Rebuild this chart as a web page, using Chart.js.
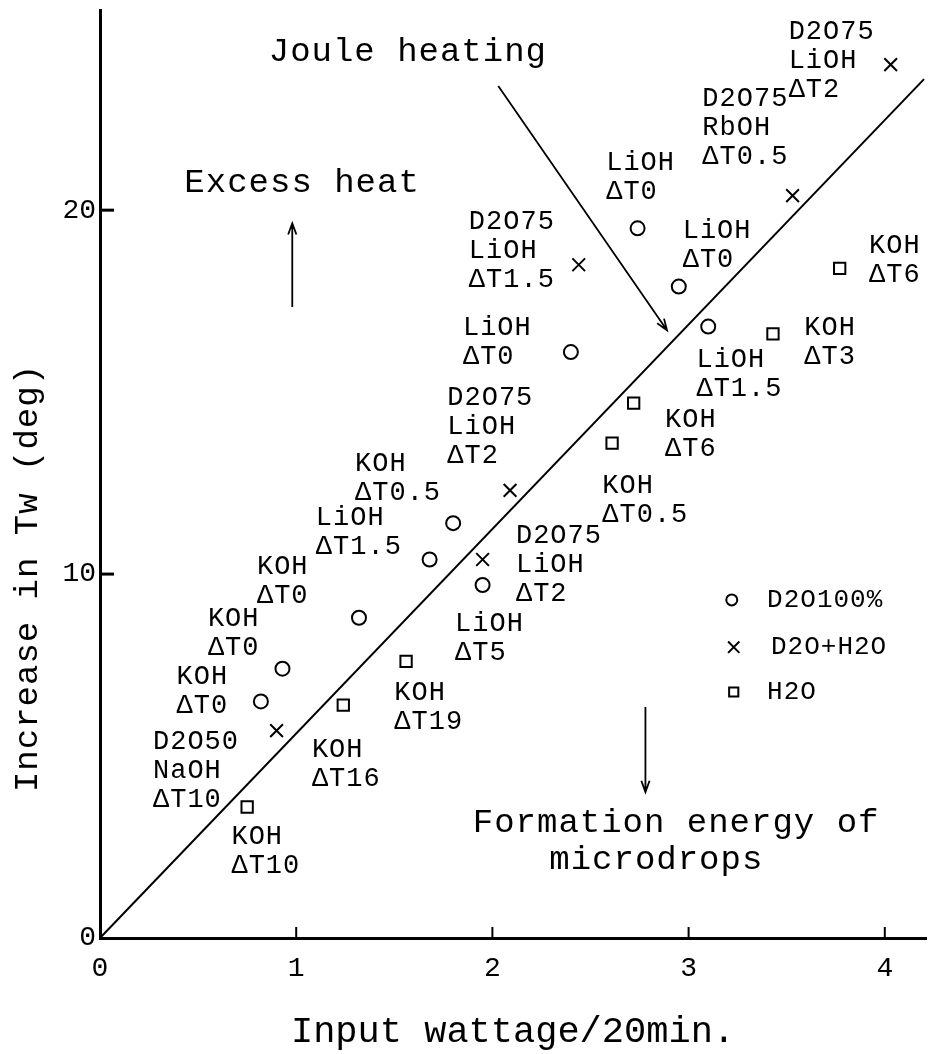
<!DOCTYPE html>
<html lang="en">
<head>
<meta charset="UTF-8">
<title>Increase in Tw vs input wattage</title>
<script src="https://cdn.jsdelivr.net/npm/chart.js"></script>
<style>
  body { margin: 0; background: #fff; }
</style>
</head>
<body>
<canvas id="twChart" width="928" height="1054"></canvas>
<script>
// D2O 100%
const d2oX = [2.74, 2.95, 3.10, 2.40, 1.80, 1.68, 1.95, 1.32, 0.93, 0.82];
const d2oY = [19.5, 17.9, 16.8, 16.1, 11.4, 10.4, 9.7, 8.8, 7.4, 6.5];
// D2O + H2O
const mixX = [4.03, 3.53, 2.44, 2.09, 1.95, 0.90];
const mixY = [24.0, 20.4, 18.5, 12.3, 10.4, 5.7];
// H2O
const h2oX = [3.77, 3.43, 2.72, 2.61, 1.56, 1.24, 0.75];
const h2oY = [18.4, 16.6, 14.7, 13.6, 7.6, 6.4, 3.6];
// straight line through the origin, end points
const lineX = [0, 4.2];
const lineY = [0, 23.6];

const xTicks = [0, 1, 2, 3, 4];
const yTicks = [0, 10, 20];

// point notes: [x, y, lines]
const notes = [
    [3.51, 24.89, ['D2O75', 'LiOH', 'ΔT2']],
    [3.07, 23.05, ['D2O75', 'RbOH', 'ΔT0.5']],
    [2.58, 21.29, ['LiOH', 'ΔT0']],
    [2.97, 19.42, ['LiOH', 'ΔT0']],
    [1.88, 19.67, ['D2O75', 'LiOH', 'ΔT1.5']],
    [3.92, 19.01, ['KOH', 'ΔT6']],
    [1.85, 16.76, ['LiOH', 'ΔT0']],
    [3.59, 16.76, ['KOH', 'ΔT3']],
    [3.04, 15.88, ['LiOH', 'ΔT1.5']],
    [1.77, 14.84, ['D2O75', 'LiOH', 'ΔT2']],
    [2.88, 14.23, ['KOH', 'ΔT6']],
    [1.30, 13.02, ['KOH', 'ΔT0.5']],
    [2.56, 12.42, ['KOH', 'ΔT0.5']],
    [1.10, 11.54, ['LiOH', 'ΔT1.5']],
    [2.12, 11.04, ['D2O75', 'LiOH', 'ΔT2']],
    [0.80, 10.19, ['KOH', 'ΔT0']],
    [0.55, 8.76, ['KOH', 'ΔT0']],
    [1.81, 8.63, ['LiOH', 'ΔT5']],
    [0.39, 7.17, ['KOH', 'ΔT0']],
    [1.50, 6.73, ['KOH', 'ΔT19']],
    [0.27, 5.38, ['D2O50', 'NaOH', 'ΔT10']],
    [1.08, 5.16, ['KOH', 'ΔT16']],
    [0.67, 2.77, ['KOH', 'ΔT10']]
];

// big captions: [x, y, text]
const captions = [
    [0.86, 24.34, 'Joule heating'],
    [0.43, 20.74, 'Excess heat'],
    [1.90, 3.16, 'Formation energy of'],
    [2.29, 2.14, 'microdrops']
];

// arrows: [x1, y1, x2, y2] (head at the second point)
const arrows = [
    [2.03, 23.41, 2.89, 16.70],
    [0.98, 17.34, 0.98, 19.64],
    [2.78, 6.35, 2.78, 4.01]
];

const seriesNames = ['D2O100%', 'D2O+H2O', 'H2O'];
const legendX = [3.22, 3.23, 3.23];
const legendY = [9.29, 7.99, 6.76];
const legendTextX = [3.40, 3.42, 3.40];

const FONT = '"Liberation Mono", "DejaVu Sans Mono", monospace';

function pts(xs, ys) {
    return xs.map((x, i) => ({ x: x, y: ys[i] }));
}

function noPad(s) {
    s.paddingTop = 0;
    s.paddingBottom = 0;
    s.paddingLeft = 0;
    s.paddingRight = 0;
}

const extras = {
    id: 'extras',
    afterDraw(chart) {
        const ctx = chart.ctx;
        const xs = chart.scales.x, ys = chart.scales.y;
        const px = v => xs.getPixelForValue(v);
        const py = v => ys.getPixelForValue(v);
        ctx.save();
        ctx.strokeStyle = '#000';
        ctx.fillStyle = '#000';

        // inward tick marks
        ctx.lineWidth = 3;
        yTicks.forEach(v => {
            if (!v) return;
            ctx.beginPath();
            ctx.moveTo(px(0), py(v));
            ctx.lineTo(px(0) + 14, py(v));
            ctx.stroke();
        });
        ctx.lineWidth = 2;
        xTicks.forEach(v => {
            if (!v) return;
            ctx.beginPath();
            ctx.moveTo(px(v), py(0));
            ctx.lineTo(px(v), py(0) - 11);
            ctx.stroke();
        });

        // arrows
        ctx.lineWidth = 1.8;
        arrows.forEach(a => {
            const x1 = px(a[0]), y1 = py(a[1]), x2 = px(a[2]), y2 = py(a[3]);
            ctx.beginPath();
            ctx.moveTo(x1, y1);
            ctx.lineTo(x2, y2);
            const ang = Math.atan2(y2 - y1, x2 - x1);
            const len = 12;
            ctx.moveTo(x2 - len * Math.cos(ang - 0.35), y2 - len * Math.sin(ang - 0.35));
            ctx.lineTo(x2, y2);
            ctx.lineTo(x2 - len * Math.cos(ang + 0.35), y2 - len * Math.sin(ang + 0.35));
            ctx.stroke();
        });

        ctx.textAlign = 'left';
        ctx.textBaseline = 'middle';
        ctx.letterSpacing = '1px';

        // notes next to the points
        ctx.font = '27px ' + FONT;
        notes.forEach(n => {
            n[2].forEach((t, i) => ctx.fillText(t, px(n[0]), py(n[1]) + i * 29));
        });

        // captions
        ctx.font = '34px ' + FONT;
        captions.forEach(c => ctx.fillText(c[2], px(c[0]), py(c[1])));

        // y title
        ctx.save();
        ctx.translate(28, 578);
        ctx.rotate(-Math.PI / 2);
        ctx.textAlign = 'center';
        ctx.font = '34px ' + FONT;
        ctx.fillText('Increase in Tw (deg)', 0, 0);
        ctx.restore();

        // legend
        ctx.font = '26px ' + FONT;
        const styles = ['circle', 'crossRot', 'rect'];
        const radii = [5.5, 8, 6.5];
        seriesNames.forEach((name, i) => {
            ctx.lineWidth = 2;
            ctx.fillStyle = 'rgba(0,0,0,0)';
            Chart.helpers.drawPoint(ctx, { pointStyle: styles[i], radius: radii[i], borderWidth: 2, rotation: 0 },
                px(legendX[i]), py(legendY[i]));
            ctx.fillStyle = '#000';
            ctx.fillText(name, px(legendTextX[i]), py(legendY[i]));
        });
        ctx.restore();
    }
};

const ctx = document.getElementById('twChart').getContext('2d');
const chart = new Chart(ctx, {
    type: 'scatter',
    data: {
        datasets: [
            {
                label: 'D2O100%',
                data: pts(d2oX, d2oY),
                pointStyle: 'circle',
                pointRadius: 7,
                borderWidth: 2,
                borderColor: '#000',
                backgroundColor: 'rgba(0,0,0,0)'
            },
            {
                label: 'D2O+H2O',
                data: pts(mixX, mixY),
                pointStyle: 'crossRot',
                pointRadius: 9,
                borderWidth: 2,
                borderColor: '#000',
                backgroundColor: 'rgba(0,0,0,0)'
            },
            {
                label: 'H2O',
                data: pts(h2oX, h2oY),
                pointStyle: 'rect',
                pointRadius: 8,
                borderWidth: 2,
                borderColor: '#000',
                backgroundColor: 'rgba(0,0,0,0)'
            },
            {
                type: 'line',
                label: 'line',
                data: pts(lineX, lineY),
                borderColor: '#000',
                borderWidth: 2,
                pointRadius: 0,
                fill: false
            }
        ]
    },
    options: {
        responsive: false,
        animation: false,
        clip: false,
        layout: { autoPadding: false, padding: { top: 10, right: 2, left: 0, bottom: 0 } },
        plugins: {
            legend: { display: false },
            tooltip: { enabled: false }
        },
        scales: {
            x: {
                type: 'linear',
                min: 0,
                max: 4.21,
                afterFit: s => { s.height = 116; noPad(s); },
                afterBuildTicks: s => { s.ticks = xTicks.map(v => ({ value: v })); },
                grid: { display: false, drawTicks: false },
                border: { display: true, color: '#000', width: 3 },
                ticks: { color: '#000', padding: 14, font: { family: FONT, size: 28 } },
                title: {
                    display: true,
                    text: 'Input wattage/20min.',
                    color: '#000',
                    font: { family: FONT, size: 37 },
                    padding: { top: 0, bottom: 0 }
                }
            },
            y: {
                type: 'linear',
                min: 0,
                max: 25.5,
                afterFit: s => { s.width = 100; noPad(s); },
                afterBuildTicks: s => { s.ticks = yTicks.map(v => ({ value: v })); },
                grid: { display: false, drawTicks: false },
                border: { display: true, color: '#000', width: 3 },
                ticks: { color: '#000', padding: 4, font: { family: FONT, size: 28 } }
            }
        }
    },
    plugins: [extras]
});
</script>
</body>
</html>
